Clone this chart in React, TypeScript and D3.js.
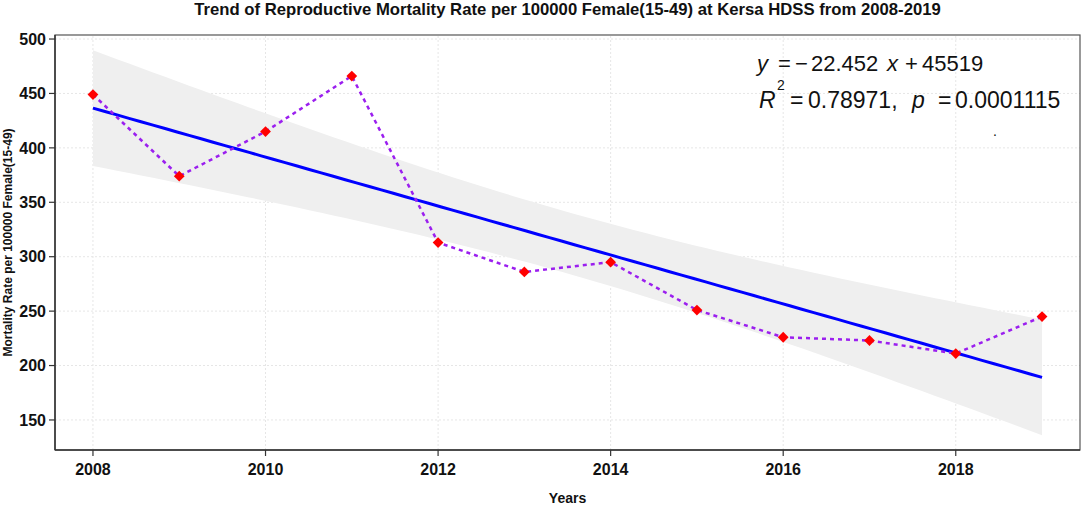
import React from "react";
import * as d3 from "d3";

// ---- data ----
const years = [2008, 2009, 2010, 2011, 2012, 2013, 2014, 2015, 2016, 2017, 2018, 2019];
const rates = [449, 374, 415, 466, 313, 286, 295, 251, 226, 223, 211, 245];
const xTicks = [2008, 2010, 2012, 2014, 2016, 2018];
const yTicks = [150, 200, 250, 300, 350, 400, 450, 500];

const title =
  "Trend of Reproductive Mortality Rate per 100000 Female(15-49) at Kersa HDSS from 2008-2019";
const yLabel = "Mortality Rate per 100000 Female(15-49)";
const xLabel = "Years";

const width = 1084;
const height = 508;
const margin = { top: 35, right: 4, bottom: 58, left: 55 };
const font = "'Liberation Sans', Arial, sans-serif";

// least squares fit with 95% confidence band (like geom_smooth(method = "lm"))
function linearFit(xs: number[], ys: number[]) {
  const n = xs.length;
  const mx = d3.mean(xs) as number;
  const my = d3.mean(ys) as number;
  const sxx = d3.sum(xs, (x) => (x - mx) ** 2);
  const sxy = d3.sum(xs, (x, i) => (x - mx) * (ys[i] - my));
  const slope = sxy / sxx;
  const intercept = my - slope * mx;
  const sse = d3.sum(xs, (x, i) => (ys[i] - (intercept + slope * x)) ** 2);
  const s = Math.sqrt(sse / (n - 2));
  const tCrit = 2.228139; // t(0.975, df = 10)
  const band = d3.range(80).map((k) => {
    const x = xs[0] + ((xs[n - 1] - xs[0]) * k) / 79;
    const fit = intercept + slope * x;
    const se = s * Math.sqrt(1 / n + (x - mx) ** 2 / sxx);
    return { x, fit, lo: fit - tCrit * se, hi: fit + tCrit * se };
  });
  return { slope, intercept, band };
}

export default function App() {
  const x = d3
    .scaleLinear()
    .domain([2007.56, 2019.44])
    .range([margin.left, width - margin.right]);
  const y = d3
    .scaleLinear()
    .domain([122.4, 503.7])
    .range([height - margin.bottom, margin.top]);

  const { band } = linearFit(years, rates);

  const area = d3
    .area<{ x: number; lo: number; hi: number }>()
    .x((d) => x(d.x))
    .y0((d) => y(d.lo))
    .y1((d) => y(d.hi));
  const fitLine = d3
    .line<{ x: number; fit: number }>()
    .x((d) => x(d.x))
    .y((d) => y(d.fit));
  const dataLine = d3
    .line<number>()
    .x((_, i) => x(years[i]))
    .y((d) => y(d));
  const diamond = d3.symbol().type(d3.symbolSquare).size(58)();

  const x0 = margin.left;
  const x1 = width - margin.right;
  const y0 = height - margin.bottom;
  const y1 = margin.top;

  return (
    <svg
      width={width}
      height={height}
      viewBox={`0 0 ${width} ${height}`}
      style={{ position: "absolute", left: 0, top: 0, background: "#ffffff" }}
      fontFamily={font}
    >
      <text
        x={(x0 + x1) / 2}
        y={15}
        textAnchor="middle"
        fontSize={16.7}
        fontWeight="bold"
        fill="#111"
      >
        {title}
      </text>

      {/* grid */}
      <g stroke="#e6e6e6" strokeWidth={1} strokeDasharray="2,2">
        {yTicks.map((t) => (
          <line key={`gy${t}`} x1={x0} x2={x1} y1={y(t)} y2={y(t)} />
        ))}
        {xTicks.map((t) => (
          <line key={`gx${t}`} x1={x(t)} x2={x(t)} y1={y0} y2={y1} />
        ))}
      </g>

      {/* confidence band + fit */}
      <path d={area(band) ?? ""} fill="#efefef" />
      <path d={fitLine(band) ?? ""} fill="none" stroke="#0000ff" strokeWidth={3} />

      {/* observed series */}
      <path
        d={dataLine(rates) ?? ""}
        fill="none"
        stroke="#9b1fef"
        strokeWidth={2.5}
        strokeDasharray="4,4"
      />
      {rates.map((r, i) => (
        <path
          key={years[i]}
          d={diamond}
          transform={`translate(${x(years[i])},${y(r)}) rotate(45)`}
          fill="#ff0000"
        />
      ))}

      {/* panel border and axes */}
      <rect x={x0} y={y1} width={x1 - x0} height={y0 - y1} fill="none" stroke="#555" strokeWidth={1.2} />
      <line x1={x0} x2={x1} y1={y0} y2={y0} stroke="#333" strokeWidth={1.5} />
      <line x1={x0} x2={x0} y1={y0} y2={y1} stroke="#333" strokeWidth={1.5} />

      {yTicks.map((t) => (
        <g key={`ty${t}`}>
          <line x1={x0 - 6} x2={x0} y1={y(t)} y2={y(t)} stroke="#333" strokeWidth={1.2} />
          <text
            x={x0 - 9}
            y={y(t)}
            dy="0.36em"
            textAnchor="end"
            fontSize={16}
            fontWeight="bold"
            fill="#111"
          >
            {t}
          </text>
        </g>
      ))}
      {xTicks.map((t) => (
        <g key={`tx${t}`}>
          <line x1={x(t)} x2={x(t)} y1={y0} y2={y0 + 6} stroke="#333" strokeWidth={1.2} />
          <text
            x={x(t)}
            y={y0 + 25}
            textAnchor="middle"
            fontSize={16}
            fontWeight="bold"
            fill="#111"
          >
            {t}
          </text>
        </g>
      ))}

      <text
        x={(x0 + x1) / 2}
        y={503}
        textAnchor="middle"
        fontSize={14}
        fontWeight="bold"
        fill="#111"
      >
        {xLabel}
      </text>
      <text
        transform={`translate(12,${(y0 + y1) / 2}) rotate(-90)`}
        textAnchor="middle"
        fontSize={12}
        fontWeight="bold"
        fill="#111"
      >
        {yLabel}
      </text>

      {/* regression annotation (plotmath-like spacing) */}
      <g fontFamily={font} fill="#111">
        <g fontSize={22}>
          <text x={757} y={71} fontStyle="italic">y</text>
          <text x={778} y={71}>=</text>
          <text x={795} y={71}>−</text>
          <text x={811} y={71}>22.452</text>
          <text x={887} y={71} fontStyle="italic">x</text>
          <text x={905} y={71}>+</text>
          <text x={922} y={71}>45519</text>
        </g>
        <g fontSize={23}>
          <text x={759} y={108} fontStyle="italic">R</text>
          <text x={777} y={90} fontSize={14}>2</text>
          <text x={790} y={108}>=</text>
          <text x={808} y={108}>0.78971,</text>
          <text x={912} y={108} fontStyle="italic">p</text>
          <text x={938} y={108}>=</text>
          <text x={955} y={108}>0.0001115</text>
        </g>
        <text x={993} y={136} fontSize={14}>.</text>
      </g>
    </svg>
  );
}
